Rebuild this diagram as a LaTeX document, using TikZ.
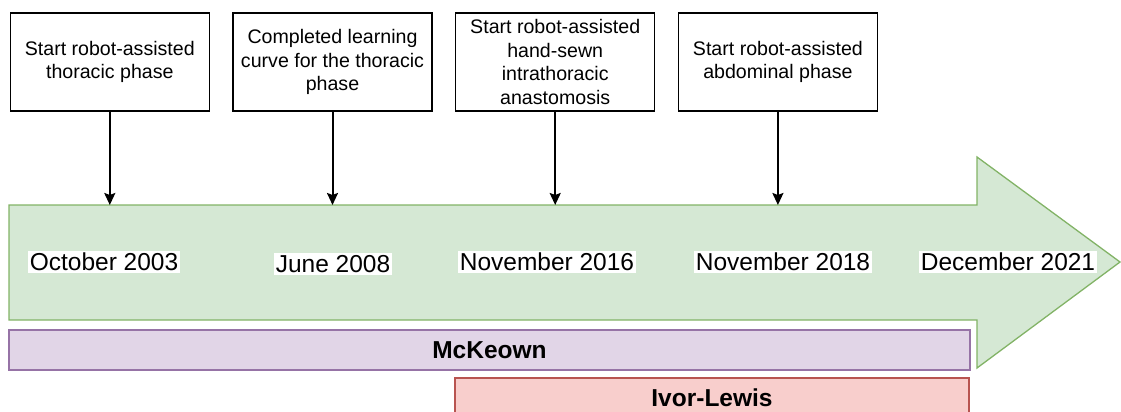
\documentclass[tikz,border=0pt]{standalone}
\usepackage{fontspec}
\setmainfont{Liberation Sans}
\usetikzlibrary{arrows.meta,positioning}
\definecolor{tlfill}{HTML}{D5E8D4}
\definecolor{tldraw}{HTML}{82B366}
\definecolor{mkfill}{HTML}{E1D5E7}
\definecolor{mkdraw}{HTML}{9673A6}
\definecolor{ilfill}{HTML}{F8CECC}
\definecolor{ildraw}{HTML}{B85450}

\begin{document}
\begin{tikzpicture}[x=1pt,y=-1pt,node distance=222.7pt,on grid,
  event/.style={draw,line width=1.4pt,minimum width=199pt,minimum height=98pt,inner sep=3pt,
    align=center,font=\fontsize{19.6}{23.7}\selectfont},
  datelabel/.style={fill=white,inner sep=2pt,font=\fontsize{24.5}{28}\selectfont},
  bar/.style={line width=1.3pt,minimum height=40pt,inner sep=0pt,font=\bfseries\fontsize{24.5}{28}\selectfont},
  conn/.style={line width=2pt,-{Stealth[length=12pt,width=11pt,inset=2pt]}}]
\useasboundingbox (0,0) rectangle (1121,412);
% timeline arrow
\draw[fill=tlfill,draw=tldraw,line width=1.3pt] (9,205) -- (977,205) -- (977,157) -- (1120,262)
  -- (977,368) -- (977,320) -- (9,320) -- cycle;
\coordinate (top) at (0,205);
% events
\node[event] (ev_1) at (109.8,62) {Start robot-assisted\\thoracic phase};
\node[event] (ev_2) [right=of ev_1] {Completed learning\\curve for the thoracic\\phase};
\node[event] (ev_3) [right=of ev_2] {Start robot-assisted\\hand-sewn\\intrathoracic\\anastomosis};
\node[event] (ev_4) [right=of ev_3] {Start robot-assisted\\abdominal phase};
\foreach \i in {1,...,4}
  \draw[conn] (ev_\i.south) -- (ev_\i.south |- top);
% dates
\node[datelabel] (d_1) at (104,262) {October 2003};
\node[datelabel] (d_2) at (333,264) {June 2008};
\node[datelabel] (d_3) at (547,262) {November 2016};
\node[datelabel] (d_4) at (783,262) {November 2018};
\node[datelabel] (d_5) at (1008,262) {December 2021};
% approaches
\node[bar,fill=mkfill,draw=mkdraw,minimum width=961pt] (mck) at (489.5,350) {McKeown};
\node[bar,fill=ilfill,draw=ildraw,minimum width=514pt] (ivl) at (712,398) {Ivor-Lewis};
\end{tikzpicture}
\end{document}
